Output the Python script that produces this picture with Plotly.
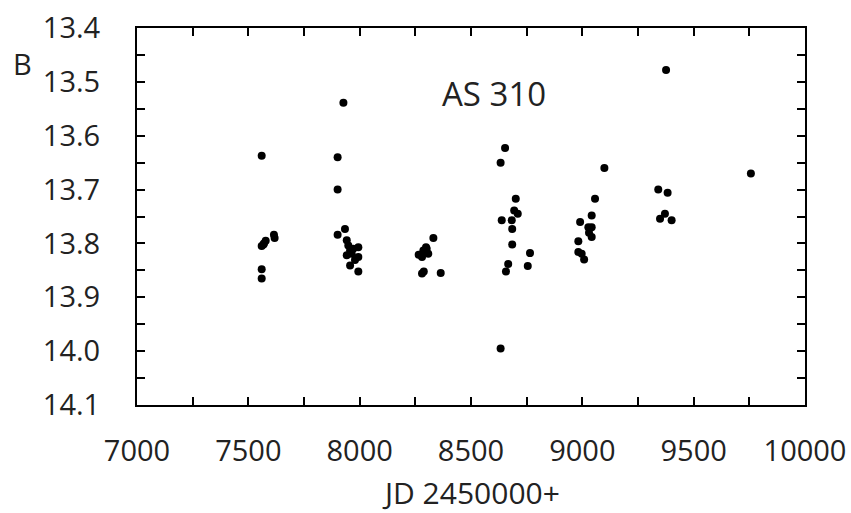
import plotly.graph_objects as go

jd = [7560, 7560, 7560, 7560, 7570, 7578, 7568, 7615, 7618,
      7927, 7901, 7901, 7901, 7934, 7942, 7949, 7957, 7964, 7971, 7994, 7994, 7979, 7957, 7994, 7942,
      8265, 8280, 8286, 8298, 8301, 8308, 8280, 8288, 8331, 8364,
      8653, 8633, 8633, 8638, 8683, 8701, 8694, 8710, 8685, 8685, 8667, 8657, 8765, 8755,
      9099, 9057, 9042, 8990, 9027, 9042, 9042, 9030, 8982, 8982, 8997, 9008,
      9376, 9341, 9383, 9371, 9349, 9401,
      9757]
bmag = [13.637, 13.848, 13.865, 13.805, 13.800, 13.795, 13.802, 13.784, 13.790,
        13.539, 13.640, 13.700, 13.784, 13.773, 13.794, 13.804, 13.813, 13.819, 13.810, 13.807, 13.825, 13.831, 13.841, 13.852, 13.822,
        13.821, 13.825, 13.813, 13.807, 13.810, 13.819, 13.856, 13.852, 13.790, 13.855,
        13.623, 13.650, 13.995, 13.757, 13.757, 13.717, 13.739, 13.745, 13.773, 13.802, 13.838, 13.852, 13.818, 13.842,
        13.660, 13.717, 13.748, 13.760, 13.770, 13.770, 13.788, 13.780, 13.796, 13.816, 13.819, 13.830,
        13.478, 13.700, 13.706, 13.745, 13.754, 13.757,
        13.670]

x_ticks = [7000, 7500, 8000, 8500, 9000, 9500, 10000]
y_ticks = [13.4, 13.5, 13.6, 13.7, 13.8, 13.9, 14.0, 14.1]
y_labels = ["13.4", "13.5", "13.6", "13.7", "13.8", "13.9", "14.0", "14.1"]

font = "Open Sans, sans-serif"
fig = go.Figure()
fig.add_trace(go.Scatter(x=jd, y=bmag, mode="markers",
                         marker=dict(color="black", size=8), showlegend=False))

fig.update_layout(
    width=851, height=513,
    margin=dict(l=137, r=46, t=28, b=108),
    plot_bgcolor="white", paper_bgcolor="white",
    font=dict(family=font, size=29, color="#222222"),
    xaxis=dict(range=[7000, 10000], tickvals=x_ticks, ticktext=[str(v) for v in x_ticks],
               ticks="inside", ticklen=8, tickwidth=2, tickcolor="black",
               minor=dict(dtick=250, tick0=7000, ticks="inside", ticklen=8, tickwidth=2, tickcolor="black"),
               showline=True, linewidth=2, linecolor="black", mirror="ticks",
               showgrid=False, zeroline=False, automargin=False,
               ticklabelstandoff=19, ticklabeloverflow="allow"),
    yaxis=dict(range=[14.1, 13.4], tickvals=y_ticks, ticktext=y_labels,
               ticks="inside", ticklen=8, tickwidth=2, tickcolor="black",
               minor=dict(dtick=0.05, tick0=13.4, ticks="inside", ticklen=8, tickwidth=2, tickcolor="black"),
               showline=True, linewidth=2, linecolor="black", mirror="ticks",
               showgrid=False, zeroline=False, automargin=False,
               ticklabelstandoff=29, ticklabeloverflow="allow"),
    annotations=[
        dict(text="B", xref="paper", yref="paper", x=-0.172, y=0.905,
             showarrow=False, font=dict(size=29), xanchor="center", yanchor="middle"),
        dict(text="AS 310", xref="x", yref="y", x=8605, y=13.521,
             showarrow=False, font=dict(size=33), xanchor="center", yanchor="middle"),
        dict(text="JD 2450000+", xref="paper", yref="paper", x=0.5, y=-0.2334,
             showarrow=False, font=dict(size=30), xanchor="center", yanchor="middle"),
    ],
)

fig.write_html("out.html", config={"displayModeBar": False},
               post_script="document.body.style.margin='0';document.body.style.overflow='hidden';")
